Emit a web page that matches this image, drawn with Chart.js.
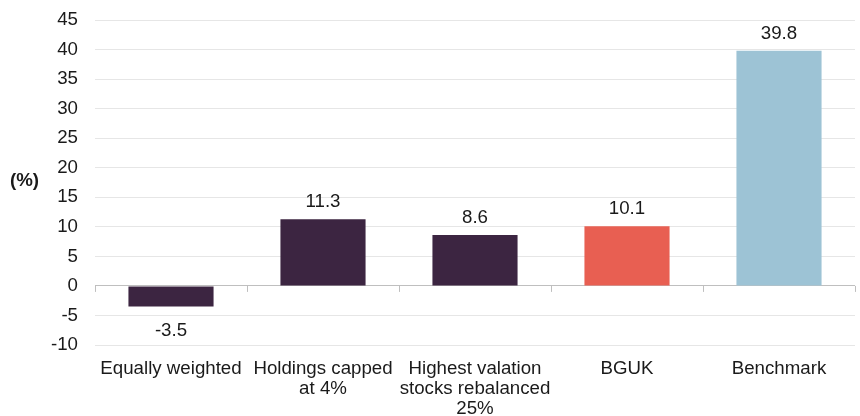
<!DOCTYPE html>
<html>
<head>
<meta charset="utf-8">
<script src="https://cdn.jsdelivr.net/npm/chart.js@4/dist/chart.umd.min.js"></script>
<style>
  html, body { margin: 0; padding: 0; background: #fff; }
  #wrap { width: 860px; height: 416px; }
</style>
</head>
<body>
<div id="wrap"><canvas id="grafico" width="860" height="416"></canvas></div>
<script>
// Dados do gráfico
const categorias = [
  "Equally weighted",
  ["Holdings capped", "at 4%"],
  ["Highest valation", "stocks rebalanced", "25%"],
  "BGUK",
  "Benchmark"
]
const valores = [-3.5, 11.3, 8.6, 10.1, 39.8]
const rotulos = ["-3.5", "11.3", "8.6", "10.1", "39.8"]
const cores = ["#3c2541", "#3c2541", "#3c2541", "#e85f52", "#9dc3d5"]
const yMin = -10
const yMax = 45
const yPasso = 5
const tituloY = "(%)"

const fonte = "Liberation Sans, Arial, sans-serif"
const tamanho = 18.7

// Rótulos de valor sobre/abaixo das barras
const pluginRotulos = {
  id: "rotulos",
  afterDatasetsDraw(chart) {
    const ctx = chart.ctx
    const meta = chart.getDatasetMeta(0)
    ctx.save()
    ctx.font = tamanho + "px " + fonte
    ctx.fillStyle = "#1a1a1a"
    ctx.textAlign = "center"
    ctx.textBaseline = "middle"
    meta.data.forEach((bar, i) => {
      const v = valores[i]
      const y = v >= 0 ? bar.y - 17 : bar.y + 24
      ctx.fillText(rotulos[i], bar.x, y)
    })
    ctx.restore()
  }
}

// Título do eixo y (horizontal) e marcas na linha do zero
const pluginEixo = {
  id: "eixo",
  afterDraw(chart) {
    const ctx = chart.ctx
    const y = chart.scales.y
    const x = chart.scales.x
    ctx.save()
    ctx.font = "bold " + tamanho + "px " + fonte
    ctx.fillStyle = "#1a1a1a"
    ctx.textAlign = "left"
    ctx.textBaseline = "middle"
    ctx.fillText(tituloY, 10, y.getPixelForValue(17.8))
    const y0 = y.getPixelForValue(0)
    ctx.strokeStyle = "#bfbfbf"
    ctx.lineWidth = 1
    for (let i = 0; i <= categorias.length; i++) {
      const px = Math.round(x.getPixelForValue(i - 0.5)) + 0.5
      ctx.beginPath()
      ctx.moveTo(px, y0)
      ctx.lineTo(px, y0 + 6)
      ctx.stroke()
    }
    ctx.restore()
  }
}

new Chart(document.getElementById("grafico").getContext("2d"), {
  type: "bar",
  data: {
    labels: categorias,
    datasets: [{
      data: valores,
      backgroundColor: cores,
      borderWidth: 0,
      categoryPercentage: 1,
      barPercentage: 0.56
    }]
  },
  options: {
    responsive: false,
    animation: false,
    devicePixelRatio: 1,
    layout: { padding: { top: 20, right: 5, left: 0, bottom: 0 } },
    plugins: {
      legend: { display: false },
      tooltip: { enabled: false }
    },
    scales: {
      x: {
        grid: { display: false },
        border: { display: false },
        ticks: {
          color: "#1a1a1a",
          font: { family: fonte, size: tamanho, lineHeight: 1.07 },
          padding: 6,
          maxRotation: 0,
          autoSkip: false
        },
        afterFit(scale) {
          scale.height = 71
          scale.paddingLeft = 0
          scale.paddingRight = 0
        }
      },
      y: {
        min: yMin,
        max: yMax,
        border: { display: false },
        grid: {
          drawTicks: false,
          color: ctx => ctx.tick && ctx.tick.value === 0 ? "#bfbfbf" : "#e6e6e6",
          lineWidth: 1
        },
        ticks: {
          stepSize: yPasso,
          color: "#1a1a1a",
          font: { family: fonte, size: tamanho },
          padding: 17
        },
        afterFit(scale) {
          scale.width = 95
          scale.paddingTop = 0
          scale.paddingBottom = 0
        }
      }
    }
  },
  plugins: [pluginRotulos, pluginEixo]
})
</script>
</body>
</html>
